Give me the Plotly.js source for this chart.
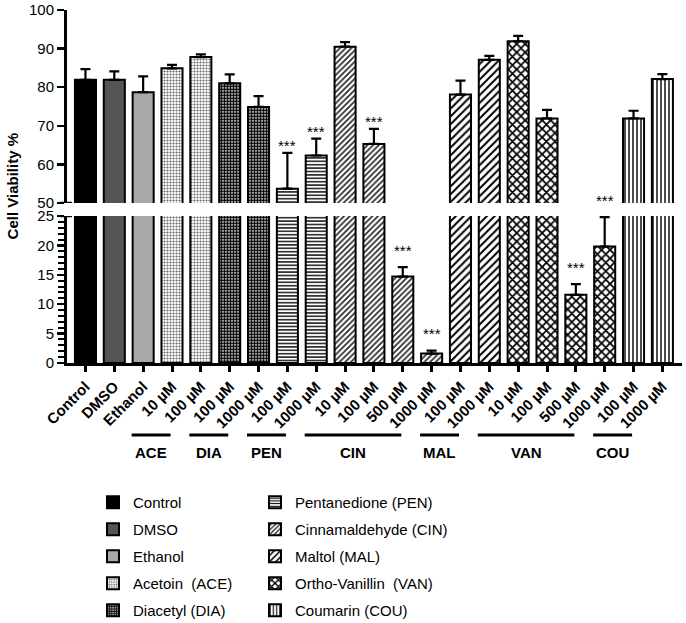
<!DOCTYPE html>
<html>
<head>
<meta charset="utf-8">
<script src="https://cdn.plot.ly/plotly-3.0.1.min.js"></script>
<style>html,body{margin:0;padding:0;background:#fff;}#chart{width:686px;height:623px;}</style>
</head>
<body>
<div id="chart"></div>
<script>
// ---- data ----
const categories = ['Control','DMSO','Ethanol','10 µM','100 µM','100 µM','1000 µM','100 µM','1000 µM',
  '10 µM','100 µM','500 µM','1000 µM','100 µM','1000 µM','10 µM','100 µM','500 µM','1000 µM','100 µM','1000 µM'];
const groupOf = ['Control','DMSO','Ethanol','ACE','ACE','DIA','DIA','PEN','PEN','CIN','CIN','CIN','CIN',
  'MAL','MAL','VAN','VAN','VAN','VAN','COU','COU'];
const viability = [81.9, 81.9, 78.7, 84.9, 87.8, 81.0, 74.9, 53.7, 62.3, 90.5, 65.3, 14.7, 1.6,
  78.1, 87.1, 91.9, 71.9, 11.6, 19.8, 71.9, 82.1];
const errorUp = [2.8, 2.2, 4.1, 0.9, 0.7, 2.3, 2.8, 9.3, 4.4, 1.2, 3.9, 1.6, 0.5,
  3.6, 1.0, 1.4, 2.2, 1.8, 5.0, 2.0, 1.3];
const significance = ['','','','','','','','***','***','','***','***','***','','','','','***','***','',''];
const legendKeys = ['Control','DMSO','Ethanol','ACE','DIA','PEN','CIN','MAL','VAN','COU'];
const legendNames = ['Control','DMSO','Ethanol','Acetoin\u00a0 (ACE)','Diacetyl (DIA)',
  'Pentanedione (PEN)','Cinnamaldehyde (CIN)','Maltol (MAL)','Ortho-Vanillin\u00a0 (VAN)','Coumarin (COU)'];
const bracketGroups = ['ACE','DIA','PEN','CIN','MAL','VAN','COU'];
const lowerRange = [0, 25];
const upperRange = [50, 100];

// ---- styles ----
const FONT = 'Liberation Sans, Arial, Helvetica, sans-serif';
const styles = {
  Control: {color: '#000000'},
  DMSO:    {color: '#555555'},
  Ethanol: {color: '#a8a8a8'},
  ACE: {color: '#ffffff', pattern: {shape: '.', fgcolor: '#666666', bgcolor: '#ffffff', size: 3, solidity: 0.4}},
  DIA: {color: '#ffffff', pattern: {shape: '.', fgcolor: '#000000', bgcolor: '#ffffff', size: 3, solidity: 0.7}},
  PEN: {color: '#ffffff', pattern: {shape: '-', fgcolor: '#000000', bgcolor: '#ffffff', size: 3.4, solidity: 0.4}},
  CIN: {color: '#ffffff', pattern: {shape: '/', fgcolor: '#222222', bgcolor: '#ffffff', size: 4, solidity: 0.4}},
  MAL: {color: '#ffffff', pattern: {shape: '/', fgcolor: '#000000', bgcolor: '#ffffff', size: 5.5, solidity: 0.35}},
  VAN: {color: '#ffffff', pattern: {shape: 'x', fgcolor: '#000000', bgcolor: '#ffffff', size: 6, solidity: 0.5}},
  COU: {color: '#ffffff', pattern: {shape: '|', fgcolor: '#000000', bgcolor: '#ffffff', size: 4, solidity: 0.35}}
};

const xIdx = categories.map((_, i) => i);
const traces = [];
legendKeys.forEach((key, k) => {
  const idx = xIdx.filter(i => groupOf[i] === key);
  const xs = idx.map(i => i);
  const ys = idx.map(i => viability[i]);
  const st = styles[key];
  const marker = {color: st.color, line: {color: '#000', width: 2}};
  if (st.pattern) marker.pattern = st.pattern;
  const errLow = idx.map(i => viability[i] <= lowerRange[1] ? errorUp[i] : NaN);
  const errHigh = idx.map(i => viability[i] >= upperRange[0] ? errorUp[i] : NaN);
  const zeros = idx.map(() => 0);
  const common = {type: 'bar', x: xs, y: ys, width: 0.73, marker: marker, hoverinfo: 'skip',
    legendgroup: key, name: legendNames[k]};
  traces.push(Object.assign({}, common, {yaxis: 'y', showlegend: false,
    error_y: {type: 'data', symmetric: false, array: errLow, arrayminus: zeros, color: '#000', thickness: 2.2, width: 5}}));
  traces.push(Object.assign({}, common, {yaxis: 'y2', showlegend: true, legend: k < 5 ? 'legend' : 'legend2',
    error_y: {type: 'data', symmetric: false, array: errHigh, arrayminus: zeros, color: '#000', thickness: 2.2, width: 5}}));
});

// significance stars
const annotations = [];
xIdx.forEach(i => {
  if (!significance[i]) return;
  const top = viability[i] + errorUp[i];
  const onUpper = viability[i] >= upperRange[0];
  annotations.push({x: i, y: top, xref: 'x', yref: onUpper ? 'y2' : 'y', text: significance[i],
    showarrow: false, yanchor: 'middle', yshift: onUpper ? 7 : 17,
    font: {family: FONT, size: 15, color: '#000'}});
});

// group brackets
const shapes = [];
bracketGroups.forEach(g => {
  const idx = xIdx.filter(i => groupOf[i] === g);
  const a = idx[0], b = idx[idx.length - 1];
  const x0 = a - 1.4, x1 = b - 1.05;
  shapes.push({type: 'line', xref: 'x', yref: 'paper', x0: x0, x1: x1, y0: -0.204, y1: -0.204,
    line: {color: '#000', width: 3}});
  annotations.push({x: (x0 + x1) / 2, y: -0.254, xref: 'x', yref: 'paper', text: '<b>' + g + '</b>',
    showarrow: false, yanchor: 'middle', font: {family: FONT, size: 15, color: '#000'}});
});
// axis break marks
shapes.push({type: 'line', xref: 'paper', yref: 'y2', x0: -0.011, x1: 0.008, y0: upperRange[0], y1: upperRange[0], line: {color: '#000', width: 2.5}});
shapes.push({type: 'line', xref: 'paper', yref: 'y', x0: -0.011, x1: 0.008, y0: lowerRange[1], y1: lowerRange[1], line: {color: '#000', width: 2.5}});

annotations.push({x: -0.088, y: 0.5, xref: 'paper', yref: 'paper', text: '<b>Cell Viability %</b>',
  textangle: -90, showarrow: false, xanchor: 'center', yanchor: 'middle', font: {family: FONT, size: 15, color: '#000'}});

const legendStyle = {orientation: 'v', xref: 'container', yref: 'container', xanchor: 'left', yanchor: 'top',
  font: {family: FONT, size: 15, color: '#000'}, tracegroupgap: 4.5, bgcolor: 'rgba(0,0,0,0)', traceorder: 'grouped'};

const layout = {
  width: 686, height: 623,
  margin: {l: 67, r: 4, t: 10, b: 260, autoexpand: false},
  paper_bgcolor: '#fff', plot_bgcolor: '#fff',
  font: {family: FONT, color: '#000'},
  barmode: 'overlay',
  xaxis: {range: [-0.64, 20.68], tickmode: 'array', tickvals: xIdx, ticktext: categories.map(c => '<b>' + c + '</b>'),
    tickangle: -45, ticks: 'outside', ticklen: 6, tickwidth: 3, tickcolor: '#000',
    showline: true, linewidth: 3, linecolor: '#000', showgrid: false, zeroline: false, automargin: false,
    tickfont: {family: FONT, size: 15, color: '#000'}, anchor: 'y', fixedrange: true},
  yaxis: {domain: [0, 147 / 353], range: lowerRange, tickvals: [0, 5, 10, 15, 20, 25],
    ticks: 'outside', ticklen: 7, tickwidth: 2.5, tickcolor: '#000', ticklabelshift: -2.5,
    minor: {dtick: 1, ticks: 'outside', ticklen: 6, tickwidth: 2, tickcolor: '#000', showgrid: false},
    showline: true, linewidth: 3, linecolor: '#000', showgrid: false, zeroline: false, automargin: false,
    tickfont: {family: FONT, size: 15, color: '#000'}, anchor: 'x', fixedrange: true},
  yaxis2: {domain: [160 / 353, 1], range: upperRange, dtick: 10,
    ticks: 'outside', ticklen: 7, tickwidth: 2.5, tickcolor: '#000', ticklabelshift: 2.5,
    showline: true, linewidth: 3, linecolor: '#000', showgrid: false, zeroline: false, automargin: false,
    tickfont: {family: FONT, size: 15, color: '#000'}, anchor: 'x', fixedrange: true},
  legend: Object.assign({}, legendStyle, {x: 93 / 686, y: 1 - 486 / 623}),
  legend2: Object.assign({}, legendStyle, {x: 255 / 686, y: 1 - 486 / 623}),
  shapes: shapes,
  annotations: annotations
};

Plotly.newPlot('chart', traces, layout, {displayModeBar: false, staticPlot: true});
</script>
</body>
</html>
